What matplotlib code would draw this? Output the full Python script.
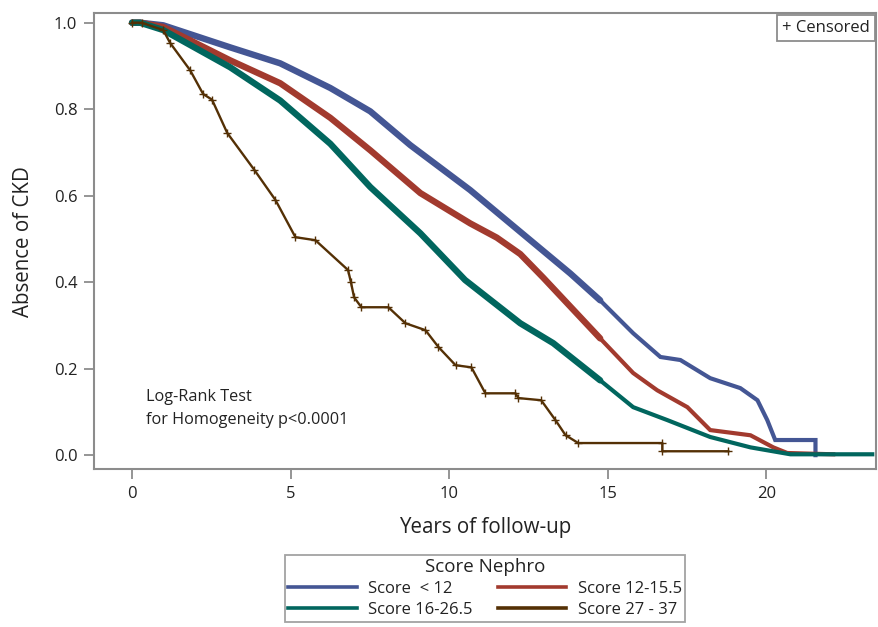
"""Kaplan-Meier curves: absence of CKD by Score Nephro group."""

import matplotlib

matplotlib.use("Agg")
import matplotlib.pyplot as plt
from matplotlib.lines import Line2D

plt.rcParams["font.family"] = ["Open Sans", "DejaVu Sans"]

# Curve vertices (years, survival)
blue_t = [0.0, 0.25, 0.98, 3.09, 4.67, 6.25, 7.51, 8.77, 10.66, 11.92, 13.82, 14.76,
          15.80, 16.66, 17.29, 18.23, 19.18, 19.72, 20.03, 20.22, 20.28, 21.55, 21.55]
blue_s = [1.0, 1.0, 0.994, 0.943, 0.906, 0.849, 0.795, 0.717, 0.613, 0.536, 0.42, 0.358,
          0.282, 0.227, 0.22, 0.178, 0.155, 0.127, 0.081, 0.046, 0.035, 0.035, 0.0]

red_t = [0.0, 0.25, 0.98, 1.51, 3.09, 4.67, 6.25, 7.51, 9.09, 10.66, 11.5, 12.24, 12.97,
         14.76, 15.80, 16.56, 17.51, 18.23, 19.50, 20.22, 20.66, 22.11]
red_s = [1.0, 1.0, 0.99, 0.971, 0.913, 0.86, 0.78, 0.705, 0.606, 0.536, 0.503, 0.465, 0.41,
         0.27, 0.19, 0.15, 0.111, 0.058, 0.046, 0.018, 0.005, 0.002]

green_t = [0.0, 0.25, 0.98, 3.09, 4.67, 6.25, 7.51, 9.09, 10.5, 12.24, 13.28, 14.76,
           15.80, 16.88, 18.23, 19.50, 20.76, 23.34]
green_s = [1.0, 1.0, 0.983, 0.897, 0.82, 0.72, 0.62, 0.513, 0.405, 0.305, 0.259, 0.173,
           0.111, 0.081, 0.042, 0.018, 0.002, 0.002]

brown_t = [0.0, 0.3, 0.98, 1.2, 1.83, 2.24, 2.52, 3.0, 3.85, 4.52, 5.15, 5.78, 6.81,
           6.9, 7.0, 7.23, 8.08, 8.62, 9.25, 9.66, 10.2, 10.7, 11.14, 12.09, 12.18,
           12.9, 13.35, 13.67, 14.07, 16.72, 16.72, 18.8]
brown_s = [1.0, 1.0, 0.983, 0.953, 0.89, 0.835, 0.822, 0.745, 0.66, 0.59, 0.504, 0.497,
           0.428, 0.40, 0.365, 0.342, 0.342, 0.305, 0.289, 0.25, 0.208, 0.203, 0.143,
           0.143, 0.132, 0.127, 0.081, 0.046, 0.028, 0.028, 0.009, 0.009]

labels = ["Score  < 12", "Score 12-15.5", "Score 16-26.5", "Score 27 - 37"]
colors = ["#445694", "#A23A2E", "#01665E", "#543005"]

x_ticks = [0, 5, 10, 15, 20]
y_ticks = [0.0, 0.2, 0.4, 0.6, 0.8, 1.0]

# dense censoring makes the early part of the big groups look thick
DENSE_UNTIL = 15.0

fig = plt.figure(figsize=(8.79, 6.27), dpi=100)
ax = fig.add_axes([0.107, 0.252, 0.89, 0.727])

for t, s, c in [(blue_t, blue_s, colors[0]), (red_t, red_s, colors[1]),
                (green_t, green_s, colors[2])]:
    n = sum(1 for v in t if v <= DENSE_UNTIL)
    ax.plot(t, s, color=c, lw=3.0, solid_joinstyle="miter")
    ax.plot(t[:n], s[:n], color=c, lw=4.6, solid_capstyle="round")

ax.plot(brown_t, brown_s, color=colors[3], lw=1.7, marker="+", ms=6, mew=1.0)

ax.set_xlim(-1.2, 23.47)
ax.set_ylim(-0.032, 1.022)
ax.set_xticks(x_ticks)
ax.set_yticks(y_ticks)
ax.set_yticklabels([f"{v:.1f}" for v in y_ticks])

for side in ax.spines.values():
    side.set_color("#8c8c8c")
    side.set_linewidth(1.5)
ax.tick_params(direction="out", length=7, width=1.3, color="#8c8c8c",
               labelsize=12, labelcolor="#222222", pad=5)

ax.set_xlabel("Years of follow-up", fontsize=14.8, color="#222222", labelpad=11)
ax.set_ylabel("Absence of CKD", fontsize=14.8, color="#222222", labelpad=14)

ax.text(0.44, 0.153, "Log-Rank Test\nfor Homogeneity p<0.0001", fontsize=11.7,
        color="#222222", va="top", ha="left", linespacing=1.55)

ax.text(0.992, 0.984, "+ Censored", transform=ax.transAxes, ha="right", va="top",
        fontsize=12, color="#222222",
        bbox=dict(boxstyle="square,pad=0.3", fc="white", ec="#8c8c8c", lw=1.3))

# SAS fills the legend row by row: reorder for matplotlib's column filling
order = [0, 2, 1, 3]
leg_handles = [Line2D([], [], color=colors[i], lw=2.6) for i in order]
leg = fig.legend(leg_handles, [labels[i] for i in order], loc="upper center",
                 bbox_to_anchor=(0.552, 0.115), ncol=2, title="Score Nephro",
                 fontsize=12, title_fontsize=13.5, frameon=True, fancybox=False,
                 edgecolor="#8c8c8c", handlelength=4.1, columnspacing=1.5,
                 borderpad=0.2, labelspacing=0.3, handletextpad=0.7,
                 borderaxespad=0)
leg.get_frame().set_linewidth(1.3)
leg.get_title().set_color("#222222")
for txt in leg.get_texts():
    txt.set_color("#222222")

fig.savefig("out.png", dpi=100)
